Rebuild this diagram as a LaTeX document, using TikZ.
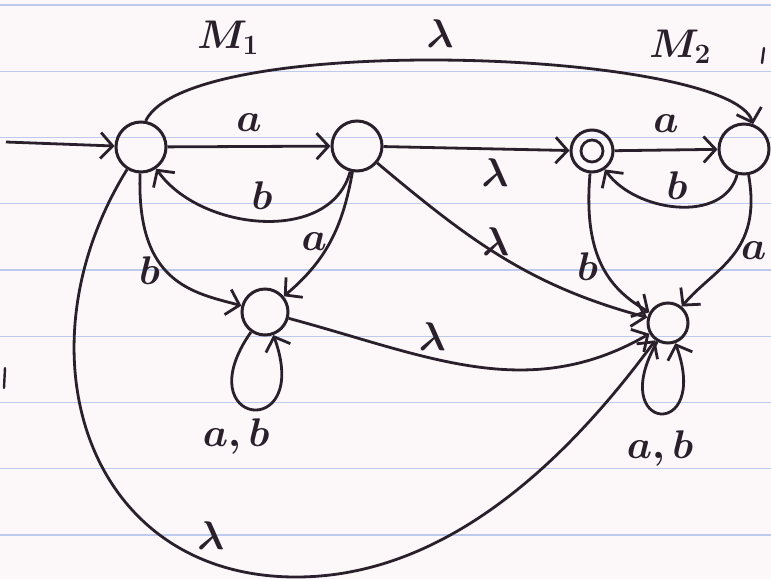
\RequirePackage{fix-cm}
\documentclass[tikz,border=0pt]{standalone}
\usetikzlibrary{arrows.meta}

\definecolor{ink}{RGB}{42,32,44}
\definecolor{paper}{RGB}{252,248,250}
\definecolor{ruling}{RGB}{190,202,236}

\begin{document}
\begin{tikzpicture}[
    x=1pt, y=-1pt,
    state/.style={circle, draw=ink, line width=3pt, minimum size=50pt, inner sep=0pt},
    accept/.style={state, minimum size=42pt,
      path picture={\draw[ink, line width=2.8pt] (path picture bounding box.center) circle (11pt);}},
    lbl/.style={font=\fontsize{40}{44}\selectfont\boldmath, text=ink, inner sep=2pt},
    edge/.style={draw=ink, line width=2.8pt, ->},
    >={Straight Barb[length=12pt,width=26pt]}
  ]
  % paper
  \fill[paper] (0,0) rectangle (771,579);
  \useasboundingbox (0,0) rectangle (771,579);
  \foreach \k in {0,...,8}
    \draw[ruling, line width=1.4pt] (0,{5+66.25*\k}) -- (771,{5+66.25*\k});

  % states
  \node[state] (q0) at (141,147) {};
  \node[state] (q1) at (357,146) {};
  \node[accept] (q2) at (592,151) {};
  \node[state] (q3) at (744,149) {};
  \node[state, minimum size=46pt] (q4) at (265,312) {};
  \node[state, minimum size=40pt] (q5) at (668,323) {};

  \node[lbl] (m1) at (228,38) {$M_1$};
  \node[lbl] (m2) at (680,47) {$M_2$};

  \coordinate (start) at (6,142);
  \coordinate (low) at (296,577);

  % transitions
  \draw[edge] (start) -- (q0);
  \draw[edge] (q0) -- node[lbl, above=12pt] {$a$} (q1);
  \draw[edge] (q1) -- node[lbl, pos=0.6, below=6pt] {$\lambda$} (q2);
  \draw[edge] (q2) -- node[lbl, above=14pt] {$a$} (q3);
  \draw[edge] (q1) to[out=-105, in=-55] node[lbl, above=8pt] {$b$} (q0);
  \draw[edge] (q3) to[out=-105, in=-55] node[lbl, above=4pt] {$b$} (q2);
  \draw[edge] (q0) to[out=-92, in=165, out distance=110pt, in distance=50pt]
    node[lbl, pos=0.45, left=2pt] {$b$} (q4);
  \draw[edge] (q1) to[out=-100, in=40] node[lbl, left=0pt] {$a$} (q4);
  \draw[edge] (q1) to[out=-40, in=165] node[lbl, pos=0.47, above=-6pt] {$\lambda$} (q5);
  \draw[edge] (q4) to[out=-15, in=-150] node[lbl, pos=0.38, above=4pt] {$\lambda$} (q5);
  \draw[edge] (q2) to[out=-95, in=150, out distance=85pt, in distance=45pt]
    node[lbl, pos=0.5, left=1pt] {$b$} (q5);
  \draw[edge] (q3) to[out=-80, in=50, out distance=80pt, in distance=50pt]
    node[lbl, pos=0.45, right=1pt] {$a$} (q5);
  \draw[edge] (q0.80) .. controls (190,30) and (730,50) .. node[lbl, pos=0.48, above=9pt] {$\lambda$} (q3.70);
  \draw[edge] (q0) .. controls (15,350) and (85,577) .. node[lbl, pos=0.85, above=10pt] {$\lambda$} (low)
    .. controls (440,577) and (560,470) .. (q5);

  % loops
  \draw[edge] (q4) to[out=-125, in=-70, distance=115pt] node[lbl, below=6pt, xshift=-16pt] {$a,b$} (q4);
  \draw[edge] (q5) to[out=-120, in=-70, distance=105pt] node[lbl, below=14pt] {$a,b$} (q5);

  % stray pen marks
  \draw[ink, line width=2.4pt, line cap=round] (764,48) -- (762,63);
  \draw[ink, line width=2.4pt, line cap=round] (5,368) -- (4,388);
\end{tikzpicture}
\end{document}
